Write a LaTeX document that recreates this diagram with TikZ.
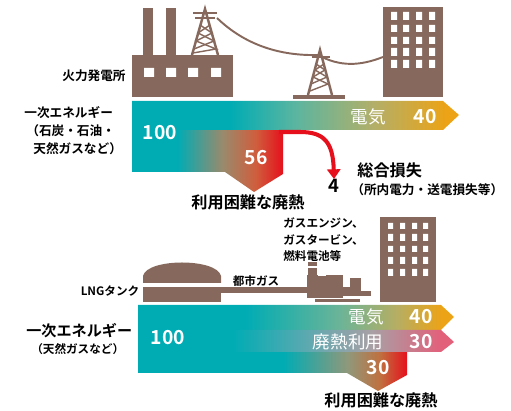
\documentclass[tikz,border=0pt]{standalone}
\usepackage{fontspec}
\setmainfont{Noto Sans CJK JP}[BoldFont={Noto Sans CJK JP Bold}]
\usetikzlibrary{arrows.meta}

\definecolor{bldcolor}{RGB}{134,105,92}
\definecolor{tealflow}{RGB}{0,172,180}
\definecolor{orangeflow}{RGB}{236,163,22}
\definecolor{pinkflow}{RGB}{226,96,122}
\definecolor{redflow}{RGB}{230,16,28}
\definecolor{midA}{RGB}{91,181,160}
\definecolor{midB}{RGB}{179,175,104}
\definecolor{midC}{RGB}{154,138,108}
\definecolor{midD}{RGB}{207,94,61}
\definecolor{midE}{RGB}{108,180,151}
\definecolor{midF}{RGB}{182,174,98}
\definecolor{midG}{RGB}{95,169,176}
\definecolor{midH}{RGB}{168,160,165}
\definecolor{midI}{RGB}{144,152,122}
\definecolor{midJ}{RGB}{192,112,63}

% horizontal flows, 25bp = left end, 75bp = right end
\pgfdeclarehorizontalshading{elecA}{100bp}{color(0bp)=(tealflow); color(40bp)=(tealflow); color(50bp)=(midA); color(62bp)=(midB); color(73bp)=(orangeflow); color(100bp)=(orangeflow)}
\pgfdeclarehorizontalshading{wasteA}{100bp}{color(0bp)=(tealflow); color(40bp)=(tealflow); color(55bp)=(midC); color(66bp)=(midD); color(75bp)=(redflow); color(100bp)=(redflow)}
\pgfdeclarehorizontalshading{elecB}{100bp}{color(0bp)=(tealflow); color(42bp)=(tealflow); color(57bp)=(midE); color(66bp)=(midF); color(73bp)=(orangeflow); color(100bp)=(orangeflow)}
\pgfdeclarehorizontalshading{heatB}{100bp}{color(0bp)=(tealflow); color(40bp)=(tealflow); color(52bp)=(midG); color(62bp)=(midH); color(73bp)=(pinkflow); color(100bp)=(pinkflow)}
\pgfdeclarehorizontalshading{wasteB}{100bp}{color(0bp)=(tealflow); color(52bp)=(tealflow); color(64bp)=(midI); color(70bp)=(midJ); color(75bp)=(redflow); color(100bp)=(redflow)}

\newcommand{\legwidth}{1.4pt}
\newcommand{\bracewidth}{0.8pt}

\tikzset{
  bld/.style={fill=bldcolor},
  win/.style={fill=white},
  wire/.style={draw=bldcolor, line width=1.1pt},
  leg/.style={draw=bldcolor, line width=\legwidth},
  brace/.style={draw=bldcolor, line width=\bracewidth},
  lbl/.style={inner sep=0pt, font=\fontsize{7.2}{8}\selectfont\bfseries},
  smalllbl/.style={inner sep=0pt, font=\fontsize{6.6}{7}\selectfont\bfseries},
  biglbl/.style={inner sep=0pt, font=\fontsize{9.2}{10}\selectfont\bfseries},
  num/.style={inner sep=0pt, text=white, font=\fontsize{11}{11}\selectfont\bfseries},
  flowlbl/.style={inner sep=0pt, text=white, font=\fontsize{10}{10}\selectfont},
}

\begin{document}
\begin{tikzpicture}[x=0.02cm, y=-0.02cm]
\useasboundingbox (0,0) rectangle (511,411);

%power plant
\fill[bld] (143,8) rectangle (153,56);
\fill[bld] (166,8) rectangle (176,56);
\fill[bld] (132,55) rectangle (233,97);
\fill[win] (144,68) rectangle (154,77) (166,68) rectangle (176,77) (188,68) rectangle (198,77) (211,68) rectangle (221,77);

%tower on the roof
\draw[leg] (192,55) -- (205,9) -- (218,55);
\draw[brace] (193,13) -- (217,13);
\draw[brace] (195,18) -- (215,18);
\draw[brace] (200,25) -- (212,33) -- (196,41) -- (216,49) -- (193,53);
\draw[brace] (210,25) -- (198,33) -- (214,41) -- (194,49);

%field tower
\draw[leg] (308,95) -- (320,50) -- (332,95);
\draw[brace] (312,57) -- (330,57);
\draw[brace] (316,64) -- (325,70) -- (313,77) -- (328,84) -- (310,91);
\draw[brace] (324,64) -- (315,70) -- (327,77) -- (311,84);
\fill[bld] (293,95) rectangle (345,99);

%power lines
\draw[wire] (217,18) .. controls (245,45) and (280,56) .. (318,55);
\draw[wire] (318,55) .. controls (340,67) and (360,66) .. (383,57);

%building
\fill[bld] (383,7) rectangle (443,97);
\fill[win] (391,12) rectangle (397,20) (403,12) rectangle (409,20) (416,12) rectangle (422,20) (429,12) rectangle (435,20);
\fill[win] (391,25) rectangle (397,32) (403,25) rectangle (409,32) (416,25) rectangle (422,32) (429,25) rectangle (435,32);
\fill[win] (391,37) rectangle (397,44) (403,37) rectangle (409,44) (416,37) rectangle (422,44) (429,37) rectangle (435,44);
\fill[win] (391,48) rectangle (397,56) (403,48) rectangle (409,56) (416,48) rectangle (422,56) (429,48) rectangle (435,56);
\fill[win] (391,60) rectangle (397,68) (403,60) rectangle (409,68) (416,60) rectangle (422,68) (429,60) rectangle (435,68);

%flows 100 -> 40 + 56 + 4
\shade[shading=wasteA] (132,130) -- (283,130) -- (283,174) -- (254,192) -- (225,172) -- (132,172) -- cycle;
\shade[shading=elecA] (132,101) -- (443,101) -- (459,115) -- (443,130) -- (132,130) -- cycle;

\node[lbl] (plant) at (94,76) {火力発電所};
\node[lbl, anchor=west] (primA) at (24,113) {一次エネルギー};
\node[lbl, anchor=west] (fuelA) at (26,131) {（石炭・石油・};
\node[lbl, anchor=west] (fuelB) at (33,149) {天然ガスなど）};
\node[num] (inA) at (160,133) {100};
\node[flowlbl] (elecA) at (368,117) {電気};
\node[num] (elecnumA) at (425,117) {40};
\node[num] (wastenumA) at (256,158) {56};
\node[biglbl] (wasteA) at (248,202) {利用困難な廃熱};
\node[inner sep=0pt, font=\fontsize{10.5}{10.5}\selectfont\bfseries] (n4) at (334,186) {4};
\node[biglbl, anchor=west] (loss) at (357,170) {総合損失};
\node[lbl, anchor=west] (lossnote) at (351,190) {（所内電力・送電損失等）};

\coordinate (lossfrom) at (279,132);
\draw[redflow, line width=2.3pt, -{Triangle[width=7.5pt, length=5.5pt]}] (lossfrom) -- (300,132) .. controls (324,132) and (333,142) .. (n4.north);

%LNG tank
\fill[bld] (143,283) -- (143,276) .. controls (147,258) and (217,258) .. (221,276) -- (221,283) -- cycle;
\fill[bld] (143,287) rectangle (221,302);
\fill[bld] (221,287) rectangle (308,293);

%gas engine plant
\fill[bld] (308,262) rectangle (317,278);
\fill[win] (308,266) rectangle (317,268);
\fill[bld] (307,275) rectangle (343,298);
\fill[win] (318,273) rectangle (326,276);
\fill[bld] (343,287) rectangle (352,296);
\fill[bld] (350,278) rectangle (361,296);
\fill[bld] (361,291) rectangle (371,296);
\fill[bld] (315,299) rectangle (360,302);

%building
\fill[bld] (380,217) rectangle (436,302);
\fill[win] (388,223) rectangle (393,229) (400,223) rectangle (405,229) (412,223) rectangle (417,229) (423,223) rectangle (428,229);
\fill[win] (388,234) rectangle (393,241) (400,234) rectangle (405,241) (412,234) rectangle (417,241) (423,234) rectangle (428,241);
\fill[win] (388,246) rectangle (393,252) (400,246) rectangle (405,252) (412,246) rectangle (417,252) (423,246) rectangle (428,252);
\fill[win] (388,257) rectangle (393,264) (400,257) rectangle (405,264) (412,257) rectangle (417,264) (423,257) rectangle (428,264);
\fill[win] (388,269) rectangle (393,276) (400,269) rectangle (405,276) (412,269) rectangle (417,276) (423,269) rectangle (428,276);

%flows 100 -> 40 + 30 + 30
\shade[shading=wasteB] (138,352) -- (407,352) -- (407,375) -- (378,391) -- (347,373) -- (138,373) -- cycle;
\shade[shading=elecB] (138,305) -- (441,305) -- (454,317) -- (441,330) -- (138,330) -- cycle;
\shade[shading=heatB] (138,330) -- (441,330) -- (454,342) -- (441,352) -- (138,352) -- cycle;

\node[smalllbl, anchor=west] (engA) at (283,223) {ガスエンジン、};
\node[smalllbl, anchor=west] (engB) at (283,240) {ガスタービン、};
\node[smalllbl, anchor=west] (engC) at (283,256) {燃料電池等};
\node[smalllbl] (tank) at (110,291) {LNGタンク};
\node[smalllbl] (gas) at (256,281) {都市ガス};
\node[inner sep=0pt, font=\fontsize{8.6}{9}\selectfont\bfseries, anchor=west] (primB) at (26,331) {一次エネルギー};
\node[smalllbl, anchor=west] (fuelC) at (31,349) {（天然ガスなど）};
\node[num] (inB) at (168,338) {100};
\node[flowlbl] (elecB) at (366,317) {電気};
\node[num] (elecnumB) at (421,317) {40};
\node[flowlbl] (heatB) at (348,342) {廃熱利用};
\node[num] (heatnumB) at (421,342) {30};
\node[num] (wastenumB) at (378,368) {30};
\node[biglbl] (wasteB) at (381,400) {利用困難な廃熱};
\end{tikzpicture}
\end{document}
